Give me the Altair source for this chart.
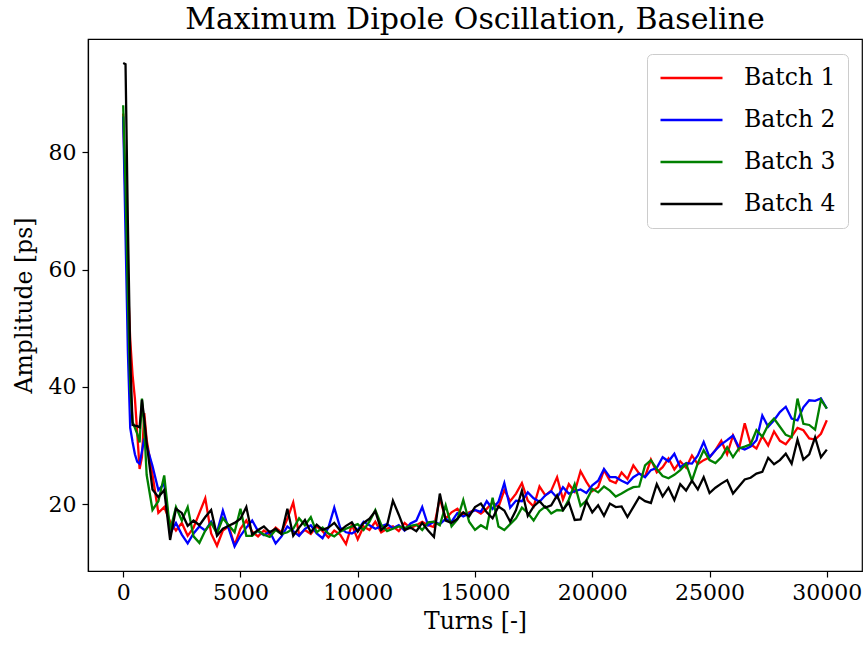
import altair as alt
import pandas as pd

# sampling grid (turns)
turns = [0, 100, 200, 300, 400, 500, 600, 700, 800, 900, 1000] + list(range(1250, 30001, 250))

batch_names = ["Batch 1", "Batch 2", "Batch 3", "Batch 4"]
batch_colors = ["#ff0000", "#0000ff", "#008000", "#000000"]

x_ticks = [0, 5000, 10000, 15000, 20000, 25000, 30000]
y_ticks = [20, 40, 60, 80]

batch1 = [
    86.6, 72, 58, 48, 42, 38, 32, 26, 28, 35.5, 31,
    25.0, 18.5, 19.5, 17.0, 15.5, 16.8, 14.6, 16.0, 18.5, 21.0,
    15.0, 12.9, 15.5, 16.2, 13.0, 15.8, 17.2, 15.3, 14.5, 15.5,
    14.8, 16.0, 15.2, 17.5, 20.3, 14.8, 15.6, 14.9, 16.2, 15.4,
    14.3, 15.5, 14.8, 13.2, 16.5, 14.0, 16.2, 15.6, 17.0, 15.2,
    15.8, 16.2, 15.4, 16.8, 15.9, 16.4, 17.0, 16.4, 16.1, 21.0,
    17.5, 18.6, 19.2, 18.0, 18.6, 19.0, 18.4, 19.2, 20.3, 19.5,
    22.4, 20.5, 21.8, 23.6, 20.6, 19.6, 23.0, 21.5, 22.3, 24.6,
    20.8, 23.4, 22.1, 25.6, 23.8, 22.2, 22.9, 25.8, 24.0, 23.6,
    25.4, 24.3, 26.6, 25.2, 24.7, 27.6, 25.4, 26.3, 27.8, 25.9,
    27.3, 26.2, 28.3, 26.8, 27.5, 28.0, 29.2, 30.8, 28.5, 31.7,
    29.4, 33.8, 30.2, 29.5, 31.6, 30.0, 32.4, 30.8, 30.2, 31.5,
    33.0, 32.6, 31.2, 31.0, 32.0, 34.3,
]

batch2 = [
    86.1, 66, 46, 33, 30.6, 28.5, 27.2, 26.9, 29.0, 31.2, 30.0,
    26.5, 22.4, 23.5, 15.0, 16.8, 14.8, 13.3, 15.0, 16.2, 15.5,
    17.0, 15.2, 18.9, 15.8, 12.8, 14.6, 16.0, 17.2, 15.4, 14.7,
    15.3, 13.3, 14.5, 16.2, 15.4, 14.6, 15.8, 16.4, 15.0, 14.2,
    16.0, 19.4, 16.0, 15.2, 15.0, 15.6, 17.0, 16.4, 15.8, 16.2,
    16.6, 15.9, 16.4, 15.5, 16.7, 17.2, 19.5, 16.4, 17.0, 16.6,
    17.5, 17.0, 18.5, 17.9, 18.4, 19.0, 18.7, 20.5, 19.2, 20.4,
    23.6, 19.4, 20.6, 20.5, 22.0, 21.0, 20.4, 21.5, 22.2, 21.1,
    22.9, 21.8, 22.2, 22.5, 21.9, 23.2, 24.0, 26.0, 24.6, 24.6,
    24.0, 23.5, 24.6, 25.2, 24.6, 25.8, 26.2, 28.0, 27.3, 28.6,
    26.3, 27.0, 26.9, 28.3, 30.6, 28.0, 29.2, 30.2, 30.9, 31.7,
    29.7, 29.3, 29.8, 30.9, 35.1, 33.2, 34.3, 35.7, 36.6, 34.6,
    34.3, 36.5, 37.7, 37.6, 38.0, 36.3,
]

batch3 = [
    88.0, 74, 55, 40, 34, 33, 32, 30.5, 38.0, 33, 25,
    19.0, 20.5, 24.9, 15.5, 19.5, 17.2, 19.5, 14.5, 13.4, 15.5,
    16.8, 15.0, 17.6, 16.4, 15.2, 19.2, 14.6, 14.6, 15.5, 14.8,
    14.4, 15.6, 14.9, 15.2, 15.8, 17.6, 16.4, 17.8, 15.2, 16.0,
    15.0, 14.5, 15.3, 15.8, 16.2, 16.6, 15.6, 17.0, 19.0, 16.5,
    15.4, 15.8, 16.2, 15.9, 16.3, 16.5, 15.6, 16.9, 17.0, 16.4,
    19.8, 16.2, 17.4, 20.7, 17.0, 15.6, 16.4, 15.8, 21.1, 16.2,
    15.6, 16.6, 17.6, 19.4, 18.5, 17.2, 18.8, 19.6, 18.4, 19.0,
    18.9, 20.8, 23.4, 19.7, 20.6, 22.6, 22.0, 23.0, 22.3, 21.3,
    21.8, 22.4, 22.9, 23.0, 26.6, 27.5, 26.0, 24.8, 24.4, 25.0,
    25.8, 26.9, 24.0, 27.0, 29.2, 27.5, 27.0, 28.0, 29.7, 28.0,
    29.5, 29.8, 30.2, 32.6, 31.5, 33.5, 34.6, 33.2, 31.8, 31.4,
    38.0, 33.7, 33.5, 32.7, 37.8, 36.3,
]

batch4 = [
    95.2, 95.0, 68, 45, 33.5, 33.4, 33.3, 33.1, 37.8, 34.5, 30.5,
    22.5, 21.2, 22.4, 13.9, 19.2, 18.5, 16.3, 17.2, 16.4, 17.8,
    19.0, 14.6, 15.8, 16.3, 16.8, 17.5, 19.5, 14.8, 15.6, 16.2,
    15.2, 15.8, 14.9, 19.2, 14.6, 16.0, 17.3, 15.2, 16.5, 15.6,
    16.0, 16.8, 15.5, 16.3, 16.9, 15.3, 16.8, 17.5, 18.8, 15.6,
    16.4, 20.6, 18.2, 15.6, 16.0, 15.4, 16.8, 15.5, 14.4, 21.8,
    17.2, 16.8, 17.5, 18.6, 17.9, 19.5, 20.1, 18.6, 17.6, 19.6,
    18.9, 17.0, 19.0, 22.3, 18.0, 19.6, 20.5, 19.4, 19.8, 21.5,
    19.0, 20.3, 17.3, 17.4, 20.5, 18.6, 19.8, 18.0, 20.1, 19.5,
    19.6, 17.8, 19.5, 21.2, 20.5, 20.2, 23.4, 21.3, 22.8, 20.7,
    23.4, 22.3, 24.0, 22.5, 24.6, 21.9, 22.8, 23.5, 24.1, 21.8,
    23.0, 24.2, 24.5, 25.2, 25.5, 27.9, 26.8, 27.5, 28.6, 26.9,
    31.0, 27.6, 28.5, 31.4, 28.0, 29.3,
]

rows = []
for name, vals in zip(batch_names, [batch1, batch2, batch3, batch4]):
    for t, v in zip(turns, vals):
        rows.append({"turns": t, "amp": v, "batch": name})
df = pd.DataFrame(rows)

FONT = "DejaVu Serif"

chart = alt.Chart(df).mark_line(strokeWidth=2.3, clip=True).encode(
    x=alt.X(
        "turns:Q",
        scale=alt.Scale(domain=[-1500, 31500], nice=False, zero=False),
        axis=alt.Axis(title="Turns [-]", values=x_ticks, format="d",
                      labelPadding=5, titlePadding=6),
    ),
    y=alt.Y(
        "amp:Q",
        scale=alt.Scale(domain=[8.6, 99.3], nice=False, zero=False),
        axis=alt.Axis(title="Amplitude [ps]", values=y_ticks, format="d",
                      labelPadding=6, titlePadding=12),
    ),
    color=alt.Color(
        "batch:N",
        scale=alt.Scale(domain=batch_names, range=batch_colors),
        legend=alt.Legend(
            title=None, orient="none", legendX=559, legendY=15,
            symbolType="stroke", symbolSize=3844, symbolStrokeWidth=2.3,
            clipHeight=24, rowPadding=18, labelOffset=20, padding=12,
            cornerRadius=5, strokeColor="#cccccc", fillColor="white",
            labelFont=FONT, labelFontSize=23.5, labelColor="black",
        ),
    ),
).properties(
    width=774,
    height=532,
    title=alt.TitleParams(
        "Maximum Dipole Oscillation, Baseline",
        font=FONT, fontSize=30, fontWeight="normal", color="black",
        anchor="middle", offset=4,
    ),
    autosize=alt.AutoSizeParams(type="none"),
    padding={"left": 88, "top": 39, "right": 5, "bottom": 77},
).configure_axis(
    grid=False,
    domainColor="black", domainWidth=1.2,
    tickColor="black", tickWidth=1.2, tickSize=6,
    labelFont=FONT, labelFontSize=22, labelColor="black",
    titleFont=FONT, titleFontSize=23.5, titleFontWeight="normal", titleColor="black",
).configure_view(
    stroke="black", strokeWidth=1.2,
)

chart.save("out.html", embed_options={"renderer": "svg", "actions": False})
